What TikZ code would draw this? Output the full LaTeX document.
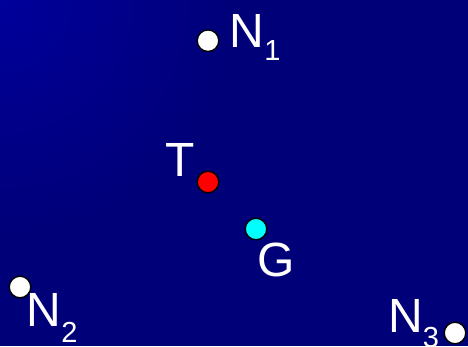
\documentclass[tikz,border=0pt]{standalone}
\usepackage{fontspec}
\setmainfont{Liberation Sans}
\definecolor{navy}{RGB}{0,0,120}
\definecolor{navylight}{RGB}{0,0,155}
\definecolor{tred}{RGB}{255,0,0}
\definecolor{gcyan}{RGB}{0,255,255}
\tikzset{
  pt/.style={circle, draw=black, line width=1.4pt, minimum size=21.6pt, inner sep=0pt},
  lab/.style={text=white, inner sep=0pt, anchor=base west,
              font=\fontsize{48}{48}\selectfont},
}
\newcommand{\subidx}[2]{{\fontsize{29}{29}\selectfont\raisebox{-#1pt}{#2}}}
\begin{document}
\begin{tikzpicture}[x=1pt, y=-1pt]
  % background
  \useasboundingbox (0,0) rectangle (468,346);
  \fill[navy] (0,0) rectangle (468,346);
  \begin{scope}
    \clip (0,0) rectangle (468,346);
    \shade[inner color=navylight, outer color=navy] (0,0) circle (240);
  \end{scope}
  % points
  \node[pt, fill=white] (n1) at (208,40.7) {};
  \node[pt, fill=tred]  (t)  at (208,182) {};
  \node[pt, fill=gcyan] (g)  at (256,229) {};
  \node[pt, fill=white] (n2) at (20,287) {};
  \node[pt, fill=white] (n3) at (455,333) {};
  % labels
  \node[lab] (n1lab) at (229.5,47) {N\subidx{13}{1}};
  \node[lab] (tlab)  at (165,176) {T};
  \node[lab] (glab)  at (257.5,276) {G};
  \node[lab] (n2lab) at (26.5,326) {N\subidx{16}{2}};
  \node[lab] (n3lab) at (388,332) {N\subidx{15}{3}};
\end{tikzpicture}
\end{document}
